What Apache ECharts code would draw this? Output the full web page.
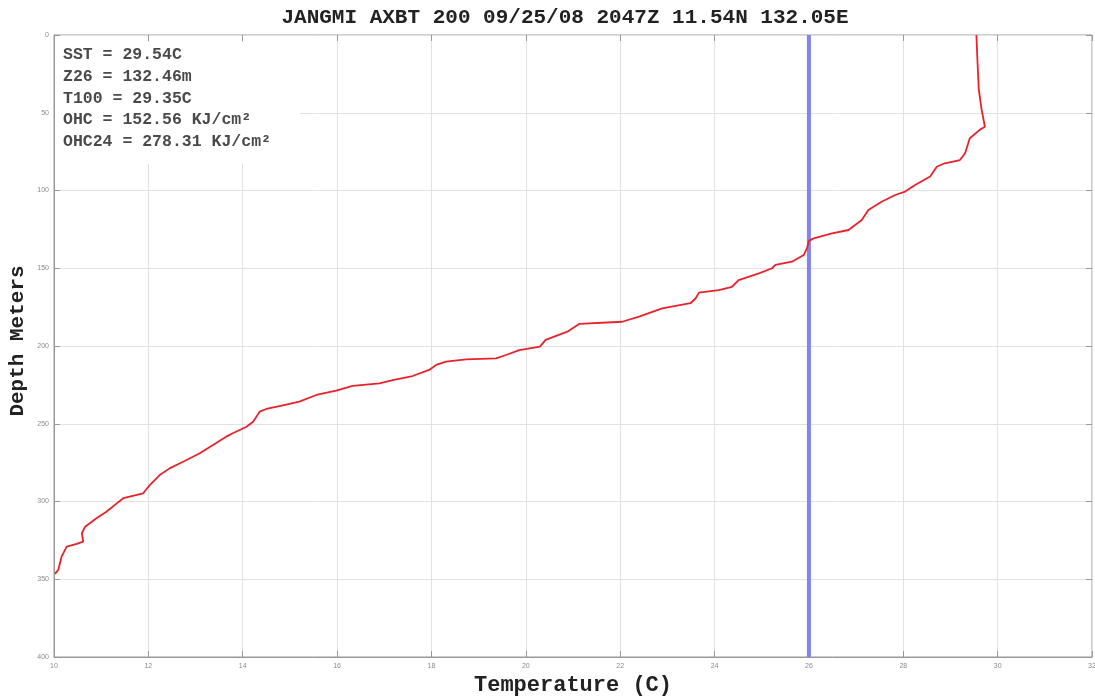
<!DOCTYPE html>
<html>
<head>
<meta charset="utf-8">
<script src="https://cdn.jsdelivr.net/npm/echarts@6/dist/echarts.min.js"></script>
<style>html,body{margin:0;padding:0;background:#fff;}#c{width:1095px;height:696px;}</style>
</head>
<body>
<div id="c"></div>
<script>
const titleText = 'JANGMI AXBT 200 09/25/08 2047Z 11.54N 132.05E';
const xName = 'Temperature (C)';
const yName = 'Depth Meters';
const infoLines = ['SST = 29.54C', 'Z26 = 132.46m', 'T100 = 29.35C', 'OHC = 152.56 KJ/cm²', 'OHC24 = 278.31 KJ/cm²'];
const xTicks = [10, 12, 14, 16, 18, 20, 22, 24, 26, 28, 30, 32];
const yTicks = [0, 50, 100, 150, 200, 250, 300, 350, 400];
const isoTemp = 26;
// profile: temperature (C), depth (m)
const temps = [29.55, 29.57, 29.60, 29.66, 29.73, 29.62, 29.41, 29.31, 29.20, 28.88, 28.71, 28.57, 28.25, 28.04, 27.83, 27.54, 27.26, 27.12, 26.84, 26.49, 26.10, 26.00, 25.96, 25.89, 25.64, 25.29, 25.22, 24.94, 24.51, 24.37, 24.09, 23.67, 23.60, 23.49, 22.89, 22.40, 22.04, 21.13, 20.88, 20.42, 20.30, 19.86, 19.58, 19.37, 18.73, 18.31, 18.10, 17.95, 17.60, 17.18, 16.90, 16.33, 15.98, 15.56, 15.20, 14.78, 14.50, 14.36, 14.22, 14.08, 13.79, 13.65, 13.37, 13.09, 12.81, 12.67, 12.45, 12.24, 12.03, 11.89, 11.47, 11.33, 11.11, 10.90, 10.66, 10.59, 10.62, 10.48, 10.27, 10.16, 10.09, 10.02];
const depths = [0, 15, 35, 48, 59, 61, 66.4, 76, 80.4, 82.5, 84.7, 91, 96.5, 100.7, 102.9, 107.2, 112.5, 119, 125.4, 127.5, 130.8, 132.4, 137, 141.5, 145.8, 147.9, 150, 153.3, 157.6, 161.9, 164, 165.7, 169.3, 172.5, 175.8, 181.1, 184.4, 185.8, 190.8, 196.1, 200.4, 202.6, 205.8, 207.9, 208.6, 210, 212.2, 215.4, 219.3, 221.9, 224, 225.7, 228.7, 231.5, 235.8, 238.6, 240.5, 242.2, 248.7, 251.9, 256.1, 258.3, 263.7, 269, 273.3, 275.4, 278.7, 283, 289.4, 294.7, 297.9, 301.2, 306.6, 310.8, 316.2, 320.4, 325.8, 327.3, 329, 335.5, 344, 346.5];

const profile = temps.map((t, i) => [t, depths[i]]);
const isoLine = [[isoTemp, yTicks[0]], [isoTemp, yTicks[yTicks.length - 1]]];

const chart = echarts.init(document.getElementById('c'), null, {renderer: 'canvas'});
const tickLabel = {color: '#8a8a8a', fontSize: 7, fontFamily: 'Liberation Sans'};
const mono = 'Liberation Mono';
chart.setOption({
  animation: false,
  backgroundColor: '#ffffff',
  title: {
    text: titleText, left: 560, top: 2, textAlign: 'center',
    textStyle: {fontFamily: mono, fontWeight: 'bold', fontSize: 21, color: '#222'}
  },
  graphic: [{
    type: 'rect', shape: {x: 55, y: 42, width: 245, height: 122}, z: 50,
    style: {fill: '#ffffff'}
  }, {
    type: 'text', left: 63, top: 44, z: 51,
    style: {text: infoLines.join('\n'), fontFamily: mono, fontSize: 16.5, fontWeight: 'bold', lineHeight: 21.8, fill: '#4a4a4a'}
  }, {
    type: 'text', x: 18, y: 341, rotation: Math.PI / 2, z: 51,
    style: {text: yName, fontFamily: mono, fontSize: 21, fontWeight: 'bold', fill: '#222', align: 'center', verticalAlign: 'middle'}
  }],
  grid: {left: 54, right: 3, top: 35, bottom: 39, show: true, borderColor: '#999', borderWidth: 1, outerBoundsMode: 'none', containLabel: false},
  xAxis: [{
    type: 'value', min: xTicks[0], max: xTicks[xTicks.length - 1], interval: 2,
    name: xName, nameLocation: 'middle', nameGap: 17,
    nameTextStyle: {fontFamily: mono, fontWeight: 'bold', fontSize: 22, color: '#222'},
    axisLine: {show: true, onZero: false, lineStyle: {color: '#999'}},
    axisTick: {show: true, inside: true, length: 6, lineStyle: {color: '#999'}},
    axisLabel: Object.assign({margin: 6}, tickLabel),
    splitLine: {show: true, lineStyle: {color: '#e2e2e2', width: 1}}
  }, {
    type: 'value', position: 'top', min: xTicks[0], max: xTicks[xTicks.length - 1], interval: 2,
    axisLine: {show: false, onZero: false}, axisLabel: {show: false}, splitLine: {show: false},
    axisTick: {show: true, inside: true, length: 6, lineStyle: {color: '#999'}}
  }],
  yAxis: [{
    type: 'value', inverse: true, min: yTicks[0], max: yTicks[yTicks.length - 1], interval: 50,
    axisLine: {show: true, onZero: false, lineStyle: {color: '#999'}},
    axisTick: {show: true, inside: true, length: 6, lineStyle: {color: '#999'}},
    axisLabel: Object.assign({margin: 5}, tickLabel),
    splitLine: {show: true, lineStyle: {color: '#e2e2e2', width: 1}}
  }, {
    type: 'value', position: 'right', inverse: true, min: yTicks[0], max: yTicks[yTicks.length - 1], interval: 50,
    axisLine: {show: false, onZero: false}, axisLabel: {show: false}, splitLine: {show: false},
    axisTick: {show: true, inside: true, length: 6, lineStyle: {color: '#999'}}
  }],
  series: [{
    type: 'line', data: isoLine, symbol: 'none', z: 2,
    lineStyle: {color: '#8282f0', width: 4}
  }, {
    type: 'line', data: profile, symbol: 'none', smooth: false, z: 3,
    lineStyle: {color: '#e8222a', width: 1.8}
  }]
});
</script>
</body>
</html>
